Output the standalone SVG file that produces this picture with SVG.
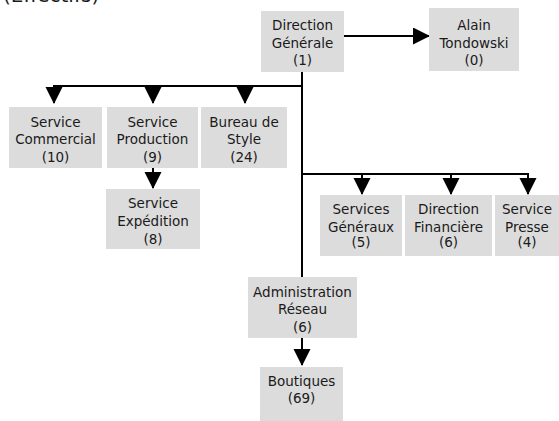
<svg xmlns="http://www.w3.org/2000/svg" width="559" height="421" viewBox="0 0 559 421">
<style>
.box{fill:#dcdcdc;}
.t{font-family:"DejaVu Sans",sans-serif;font-size:13.5px;fill:#1a1a1a;text-anchor:middle;}
.ttl{font-family:"DejaVu Sans",sans-serif;font-size:20px;fill:#1a1a1a;}
.c{stroke:#000;stroke-width:2;fill:none;}
</style>
<defs>
<marker id="ah" markerUnits="userSpaceOnUse" markerWidth="17" markerHeight="18" refX="16" refY="8.5" orient="auto" viewBox="0 0 17 18">
<path d="M0,0 L17,8.5 L0,17 z" fill="#000"/>
</marker>
</defs>
<rect width="559" height="421" fill="#fff"/>
<text class="ttl" x="3" y="2">(Effectifs)</text>
<g id="connectors">
<line class="c" x1="344" y1="36" x2="429" y2="36" marker-end="url(#ah)"/>
<line class="c" x1="302" y1="71" x2="302" y2="277"/>
<line class="c" x1="53" y1="86" x2="303" y2="86"/>
<line class="c" x1="54" y1="86" x2="54" y2="103" marker-end="url(#ah)"/>
<line class="c" x1="153" y1="86" x2="153" y2="103" marker-end="url(#ah)"/>
<line class="c" x1="245" y1="86" x2="245" y2="103" marker-end="url(#ah)"/>
<line class="c" x1="153" y1="168" x2="153" y2="188" marker-end="url(#ah)"/>
<line class="c" x1="301" y1="174" x2="529" y2="174"/>
<line class="c" x1="362" y1="174" x2="362" y2="194" marker-end="url(#ah)"/>
<line class="c" x1="451" y1="174" x2="451" y2="194" marker-end="url(#ah)"/>
<line class="c" x1="528" y1="174" x2="528" y2="194" marker-end="url(#ah)"/>
<line class="c" x1="302" y1="338" x2="302" y2="365" marker-end="url(#ah)"/>
</g>
<g id="n-dg"><rect class="box" x="261" y="11" width="83" height="61"/>
<text class="t" x="302.5" y="30">Direction</text><text class="t" x="302.5" y="47.5">Générale</text><text class="t" x="302.5" y="65">(1)</text></g>
<g id="n-alain"><rect class="box" x="429" y="8" width="90" height="63"/>
<text class="t" x="474" y="30">Alain</text><text class="t" x="474" y="47.5">Tondowski</text><text class="t" x="474" y="65">(0)</text></g>
<g id="n-commercial"><rect class="box" x="9" y="107" width="93" height="61"/>
<text class="t" x="55.5" y="126.5">Service</text><text class="t" x="55.5" y="144">Commercial</text><text class="t" x="55.5" y="161.5">(10)</text></g>
<g id="n-production"><rect class="box" x="107" y="107" width="91" height="61"/>
<text class="t" x="152.5" y="126.5">Service</text><text class="t" x="152.5" y="144">Production</text><text class="t" x="152.5" y="161.5">(9)</text></g>
<g id="n-bureau"><rect class="box" x="201" y="107" width="86" height="61"/>
<text class="t" x="244" y="126.5">Bureau de</text><text class="t" x="244" y="144">Style</text><text class="t" x="244" y="161.5">(24)</text></g>
<g id="n-expedition"><rect class="box" x="106" y="189" width="94" height="60"/>
<text class="t" x="153" y="208">Service</text><text class="t" x="153" y="226">Expédition</text><text class="t" x="153" y="243.5">(8)</text></g>
<g id="n-generaux"><rect class="box" x="320" y="195" width="82" height="61"/>
<text class="t" x="361" y="214">Services</text><text class="t" x="361" y="231.5">Généraux</text><text class="t" x="361" y="247">(5)</text></g>
<g id="n-financiere"><rect class="box" x="405" y="195" width="87" height="61"/>
<text class="t" x="448.5" y="214">Direction</text><text class="t" x="448.5" y="231.5">Financière</text><text class="t" x="448.5" y="247">(6)</text></g>
<g id="n-presse"><rect class="box" x="495" y="195" width="64" height="61"/>
<text class="t" x="527" y="214">Service</text><text class="t" x="527" y="231.5">Presse</text><text class="t" x="527" y="247">(4)</text></g>
<g id="n-admin"><rect class="box" x="248" y="277" width="109" height="61"/>
<text class="t" x="302.5" y="296.5">Administration</text><text class="t" x="302.5" y="314">Réseau</text><text class="t" x="302.5" y="331.5">(6)</text></g>
<g id="n-boutiques"><rect class="box" x="260" y="367" width="83" height="54"/>
<text class="t" x="301.5" y="385.5">Boutiques</text><text class="t" x="301.5" y="402.5">(69)</text></g>
</svg>
